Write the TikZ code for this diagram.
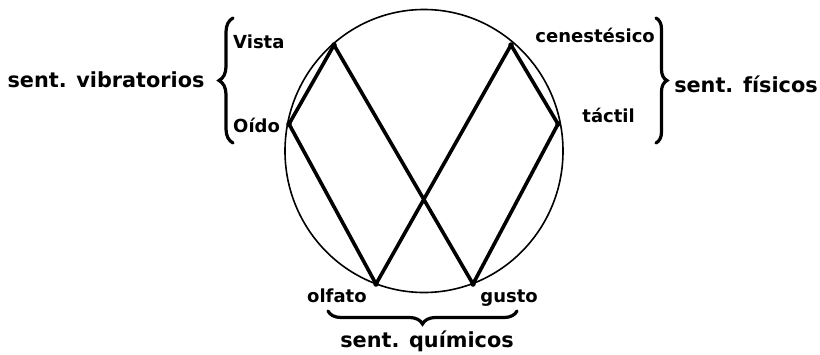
\documentclass[tikz,border=0pt]{standalone}
\usepackage{fontspec}
\setmainfont{DejaVu Sans}
\usepackage{tikz}
\usetikzlibrary{decorations.pathreplacing, calc}
\tikzset{
	sensedot/.style={fill=black, inner sep=0pt, minimum size=5.5pt, circle}
}
\tikzset{
	senseline/.style={line width=3.6pt, line cap=round, line join=round}
}
\tikzset{
	smalllabel/.style={font=\fontsize{18}{20}\selectfont\bfseries, inner sep=0pt}
}
\tikzset{
	biglabel/.style={font=\fontsize{20.8}{23}\selectfont\bfseries, inner sep=0pt}
}
\tikzset{
	groupbrace/.style={line width=3.2pt, line cap=round, decorate, decoration={brace, amplitude=#1}}
}

\begin{document}
\begin{tikzpicture}[x=1pt, y=-1pt]

			\useasboundingbox (0,0) rectangle (820,354);

			\draw[line width=1.6pt] (424,151) ellipse [x radius=139, y radius=141.5];

			\begin{scope}
				\coordinate (vista) at (334,45);
				\coordinate (oido) at (289,124);
				\coordinate (cenes) at (511,45);
				\coordinate (tactil) at (558,124);
				\coordinate (olfato) at (376,284);
				\coordinate (gusto) at (473,284);

				\draw[senseline] (oido) -- (vista) -- (gusto) -- (tactil) -- (cenes) -- (olfato) -- cycle;

				\foreach \p in {vista, oido, cenes, tactil, olfato, gusto}
					\node[sensedot] at (\p) {};
			\end{scope}

			\begin{scope}
				\node[smalllabel, anchor=base west] (lvista) at (233,48) {Vista};
				\node[smalllabel, anchor=base west] (loido) at (233,132) {Oído};
				\node[smalllabel, anchor=base east] (lcenes) at (655,42) {cenestésico};
				\node[smalllabel, anchor=base east] (ltactil) at (635,122) {táctil};
				\node[smalllabel, anchor=base west] (lolfato) at (307,302) {olfato};
				\node[smalllabel, anchor=base east] (lgusto) at (538,302) {gusto};
			\end{scope}

			\begin{scope}
				\coordinate (bA) at (233,143);
				\coordinate (bB) at (233,18);
				\coordinate (bC) at (656,18);
				\coordinate (bD) at (656,143);
				\coordinate (bE) at (517,311);
				\coordinate (bF) at (328,311);

				\draw[groupbrace=14pt] (bA) -- (bB);
				\draw[groupbrace=11pt] (bC) -- (bD);
				\draw[groupbrace=13pt] (bE) -- (bF);

				\node[biglabel, anchor=base] (vibr) at (106,87) {sent. vibratorios};
				\node[biglabel, anchor=base] (fisi) at (746,92) {sent. físicos};
				\node[biglabel, anchor=base] (quim) at (427,347) {sent. químicos};
			\end{scope}

		\end{tikzpicture}
\end{document}
